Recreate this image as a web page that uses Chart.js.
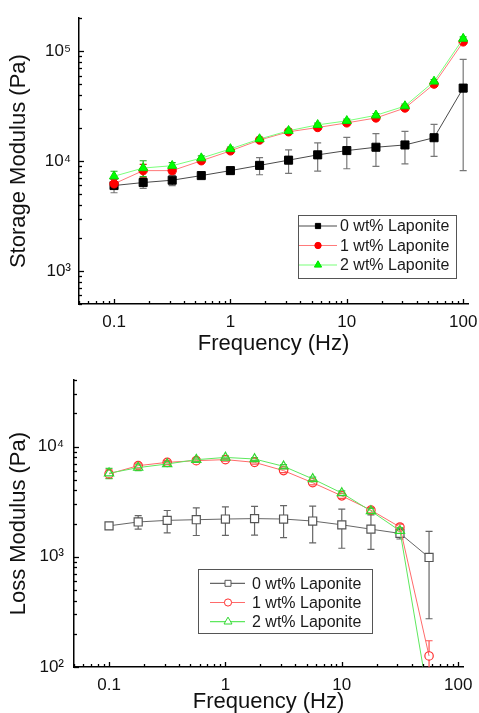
<!DOCTYPE html>
<html>
<head>
<meta charset="utf-8">
<script src="https://cdn.jsdelivr.net/npm/chart.js@4.4.0/dist/chart.umd.min.js"></script>
<style>
  html, body { margin: 0; padding: 0; background: #fff; overflow: hidden; }
  body { width: 479px; height: 713px; position: relative; }
  .panel { position: absolute; left: 0; width: 479px; }
  #top { top: 0; height: 360px; }
  #bottom { top: 360px; height: 372px; }
</style>
</head>
<body>
<div class="panel" id="top"><canvas id="storageChart"></canvas></div>
<div class="panel" id="bottom"><canvas id="lossChart"></canvas></div>
<script>
// frequency sweep (Hz)
const freq = [0.1, 0.178, 0.316, 0.562, 1, 1.78, 3.16, 5.62, 10, 17.8, 31.6, 56.2, 100];
const seriesLabels = ["0 wt% Laponite", "1 wt% Laponite", "2 wt% Laponite"];

// storage modulus G' (Pa) and standard deviations
const storage0 = [5990, 6380, 6700, 7380, 8190, 9140, 10200, 11400, 12470, 13370, 14030, 16330, 46200];
const storage0Err = [840, 740, 710, 300, 600, 1630, 2470, 3280, 3950, 4400, 4580, 5300, 38000];
const storage1 = [6210, 8190, 8190, 10070, 12390, 15550, 18480, 20220, 22280, 24710, 30430, 50230, 121700];
const storage1Err = [600, 1150, 500, 400, 500, 600, 600, 700, 800, 900, 1200, 2000, 4000];
const storage2 = [7280, 8650, 9080, 10640, 12900, 15880, 18880, 21380, 23240, 26120, 31700, 53100, 130300];
const storage2Err = [800, 1420, 600, 500, 500, 600, 700, 800, 900, 1000, 1300, 2100, 5000];

// loss modulus G'' (Pa) and standard deviations (no value at 100 Hz)
const loss0 = [1909, 2070, 2140, 2170, 2200, 2220, 2200, 2110, 1950, 1780, 1630, 986];
const loss0Err = [70, 290, 490, 610, 635, 650, 710, 775, 755, 615, 180, 712];
const loss1 = [5650, 6710, 7190, 7450, 7610, 7190, 6050, 4700, 3570, 2650, 1860, 126];
const loss1Err = [500, 350, 300, 250, 250, 250, 250, 200, 180, 150, 120, 47];
const loss2 = [5730, 6440, 6950, 7600, 7970, 7710, 6620, 5090, 3790, 2600, 1720, 48];
const loss2Err = [620, 400, 350, 300, 250, 250, 250, 200, 180, 150, 120, 10];

// tick labels
const xTickValues = [0.1, 1, 10, 100];
const xTickLabels = ["0.1", "1", "10", "100"];
const storageTickValues = [1e3, 1e4, 1e5];
const storageTickLabels = ["10\u00B3", "10\u2074", "10\u2075"];
const lossTickValues = [1e2, 1e3, 1e4];
const lossTickLabels = ["10\u00B2", "10\u00B3", "10\u2074"];

const FONT = "'Liberation Sans', Arial, 'DejaVu Sans', sans-serif";
Chart.defaults.font.family = FONT;
Chart.defaults.color = "#111";

function pickLabel(values, labels) {
    return (v) => {
        for (let i = 0; i < values.length; i++) {
            if (Math.abs(v - values[i]) / values[i] < 1e-6) return labels[i];
        }
        return "";
    };
}

function points(vals) {
    return vals.map((v, i) => ({ x: freq[i], y: v }));
}

function drawMarker(ctx, style, x, y, r) {
    ctx.beginPath();
    if (style === "rect") {
        ctx.rect(x - r, y - r, 2 * r, 2 * r);
    } else if (style === "triangle") {
        ctx.moveTo(x, y - r);
        ctx.lineTo(x + r * 0.866, y + r * 0.5);
        ctx.lineTo(x - r * 0.866, y + r * 0.5);
        ctx.closePath();
    } else {
        ctx.arc(x, y, r, 0, Math.PI * 2);
    }
    ctx.fill();
    ctx.stroke();
}

// vertical error bars, drawn through the chart's own scales
const errorBars = {
    id: "errorBars",
    beforeDatasetsDraw(chart) {
        const { ctx, chartArea } = chart;
        const xs = chart.scales.x, ys = chart.scales.y;
        ctx.save();
        ctx.beginPath();
        ctx.rect(chartArea.left, chartArea.top, chartArea.right - chartArea.left, chartArea.bottom - chartArea.top);
        ctx.clip();
        chart.data.datasets.forEach((ds) => {
            if (!ds.errors) return;
            ctx.strokeStyle = ds.errorColor;
            ctx.lineWidth = 1.2;
            ds.data.forEach((p, i) => {
                const e = ds.errors[i];
                if (p.y == null || e == null) return;
                const x = xs.getPixelForValue(p.x);
                const yc = ys.getPixelForValue(p.y);
                const yHi = ys.getPixelForValue(p.y + e);
                const lo = p.y - e;
                const yLo = lo > 0 ? ys.getPixelForValue(lo) : chartArea.bottom + 20;
                const gap = ds.errorGap || 0;
                ctx.beginPath();
                if (yHi < yc - gap) { ctx.moveTo(x, yc - gap); ctx.lineTo(x, yHi); }
                if (yLo > yc + gap) { ctx.moveTo(x, yc + gap); ctx.lineTo(x, yLo); }
                ctx.moveTo(x - 3.5, yHi); ctx.lineTo(x + 3.5, yHi);
                ctx.moveTo(x - 3.5, yLo); ctx.lineTo(x + 3.5, yLo);
                ctx.stroke();
            });
        });
        ctx.restore();
    }
};

// short tick marks pointing into the plot, major and minor on log axes
const inwardTicks = {
    id: "inwardTicks",
    afterDraw(chart) {
        const ctx = chart.ctx;
        ctx.save();
        ctx.strokeStyle = "#000";
        ctx.lineWidth = 1.3;
        ["x", "y"].forEach((id) => {
            const s = chart.scales[id];
            const lo = Math.floor(Math.log10(s.min));
            const hi = Math.ceil(Math.log10(s.max));
            for (let e = lo; e <= hi; e++) {
                for (let k = 1; k <= 9; k++) {
                    const v = k * Math.pow(10, e);
                    if (v < s.min * 0.9999 || v > s.max * 1.0001) continue;
                    const len = k === 1 ? 5 : 3;
                    const p = Math.round(s.getPixelForValue(v)) + 0.5;
                    ctx.beginPath();
                    if (id === "x") {
                        ctx.moveTo(p, s.top);
                        ctx.lineTo(p, s.top - len);
                    } else {
                        ctx.moveTo(s.right, p);
                        ctx.lineTo(s.right + len, p);
                    }
                    ctx.stroke();
                }
            }
        });
        ctx.restore();
    }
};

// framed legend with line + marker samples
const boxLegend = {
    id: "boxLegend",
    afterDraw(chart, args, opts) {
        const ctx = chart.ctx;
        ctx.save();
        ctx.strokeStyle = "#555";
        ctx.lineWidth = 1;
        ctx.strokeRect(opts.left + 0.5, opts.top + 0.5, opts.width, opts.height);
        chart.data.datasets.forEach((ds, i) => {
            const y = opts.rowY + i * opts.rowGap;
            ctx.strokeStyle = ds.borderColor;
            ctx.lineWidth = 1.2;
            ctx.beginPath();
            ctx.moveTo(opts.lineX0, y);
            ctx.lineTo(opts.lineX1, y);
            ctx.stroke();
            ctx.fillStyle = ds.legendFill;
            ctx.strokeStyle = ds.pointBorderColor;
            ctx.lineWidth = 1;
            drawMarker(ctx, ds.pointStyle, opts.markerX, y, ds.legendRadius);
            ctx.fillStyle = "#1a1a1a";
            ctx.font = "16px " + FONT;
            ctx.textBaseline = "middle";
            ctx.textAlign = "left";
            ctx.fillText(ds.label, opts.textX, y + 1);
        });
        ctx.restore();
    }
};

function axes(yMin, yMax, yValues, yLabels, yTitle, yWidth, xHeight, yPad, xTitlePad) {
    return {
        x: {
            type: "logarithmic",
            min: 0.05,
            max: 110,
            grid: { display: false, drawTicks: false },
            border: { display: true, color: "#000", width: 1.5 },
            ticks: {
                autoSkip: false, maxRotation: 0, padding: 8, color: "#111",
                font: { size: 17 },
                callback: pickLabel(xTickValues, xTickLabels)
            },
            title: { display: true, text: "Frequency (Hz)", color: "#111", font: { size: 22 }, padding: { top: 0, bottom: xTitlePad } },
            afterFit: (s) => { s.height = xHeight; }
        },
        y: {
            type: "logarithmic",
            min: yMin,
            max: yMax,
            grid: { display: false, drawTicks: false },
            border: { display: true, color: "#000", width: 1.5 },
            ticks: {
                autoSkip: false, padding: yPad, color: "#111",
                font: { size: 17 },
                callback: pickLabel(yValues, yLabels)
            },
            title: { display: true, text: yTitle, color: "#111", font: { size: 22 }, padding: { top: 6, bottom: 0 } },
            afterFit: (s) => { s.width = yWidth; }
        }
    };
}

function drawStorageChart() {
    const ctx = document.getElementById("storageChart").getContext("2d");
    new Chart(ctx, {
        type: "line",
        data: {
            datasets: [
                {
                    label: seriesLabels[0], data: points(storage0), errors: storage0Err,
                    errorColor: "#777", errorGap: 0, order: 2,
                    borderColor: "#4a4a4a", borderWidth: 1,
                    pointStyle: "rect", pointRadius: 5.7, pointBorderWidth: 1,
                    pointBackgroundColor: "#000", pointBorderColor: "#000",
                    legendFill: "#000", legendRadius: 2.6
                },
                {
                    label: seriesLabels[1], data: points(storage1), errors: storage1Err,
                    errorColor: "#d02020", errorGap: 0, order: 1,
                    borderColor: "#ff7a7a", borderWidth: 1,
                    pointStyle: "circle", pointRadius: 4.2, pointBorderWidth: 1,
                    pointBackgroundColor: "#ff0000", pointBorderColor: "#ff0000",
                    legendFill: "#ff0000", legendRadius: 3.2
                },
                {
                    label: seriesLabels[2], data: points(storage2), errors: storage2Err,
                    errorColor: "#20b020", errorGap: 0, order: 0,
                    borderColor: "#7aff7a", borderWidth: 1,
                    pointStyle: "triangle", pointRadius: 5.3, pointBorderWidth: 1,
                    pointBackgroundColor: "#00ff00", pointBorderColor: "#00e000",
                    legendFill: "#00ff00", legendRadius: 4.2
                }
            ]
        },
        options: {
            responsive: true,
            maintainAspectRatio: false,
            animation: false,
            layout: { padding: { top: 14, right: 11, left: 0, bottom: 0 } },
            scales: axes(500, 2e5, storageTickValues, storageTickLabels, "Storage Modulus (Pa)", 79, 56, 8, 3),
            plugins: {
                legend: { display: false },
                tooltip: { enabled: false },
                boxLegend: {
                    left: 298, top: 215, width: 158, height: 63,
                    rowY: 226, rowGap: 19.5,
                    lineX0: 299, lineX1: 337, markerX: 318, textX: 340
                }
            }
        },
        plugins: [errorBars, inwardTicks, boxLegend]
    });
}

function drawLossChart() {
    const ctx = document.getElementById("lossChart").getContext("2d");
    new Chart(ctx, {
        type: "line",
        data: {
            datasets: [
                {
                    label: seriesLabels[0], data: points(loss0), errors: loss0Err,
                    errorColor: "#666", errorGap: 4, order: 2,
                    borderColor: "#666", borderWidth: 1,
                    pointStyle: "rect", pointRadius: 5.7, pointBorderWidth: 1.2,
                    pointBackgroundColor: "#fff", pointBorderColor: "#555",
                    legendFill: "#fff", legendRadius: 3
                },
                {
                    label: seriesLabels[1], data: points(loss1), errors: loss1Err,
                    errorColor: "#ff5050", errorGap: 4, order: 1,
                    borderColor: "#ff6a6a", borderWidth: 1,
                    pointStyle: "circle", pointRadius: 4.2, pointBorderWidth: 1.2,
                    pointBackgroundColor: "rgba(255,255,255,0)", pointBorderColor: "#ff3030",
                    legendFill: "#fff", legendRadius: 3.6
                },
                {
                    label: seriesLabels[2], data: points(loss2), errors: loss2Err,
                    errorColor: "#40d040", errorGap: 4, order: 0,
                    borderColor: "#5ee85e", borderWidth: 1,
                    pointStyle: "triangle", pointRadius: 5.3, pointBorderWidth: 1.2,
                    pointBackgroundColor: "rgba(255,255,255,0)", pointBorderColor: "#30d830",
                    legendFill: "#fff", legendRadius: 4.6
                }
            ]
        },
        options: {
            responsive: true,
            maintainAspectRatio: false,
            animation: false,
            layout: { padding: { top: 17, right: 16, left: 0, bottom: 0 } },
            scales: axes(100, 4e4, lossTickValues, lossTickLabels, "Loss Modulus (Pa)", 74, 65, 10, 17),
            plugins: {
                legend: { display: false },
                tooltip: { enabled: false },
                boxLegend: {
                    left: 198, top: 209, width: 174, height: 64,
                    rowY: 223.3, rowGap: 19.2,
                    lineX0: 210, lineX1: 245, markerX: 228, textX: 252
                }
            }
        },
        plugins: [errorBars, inwardTicks, boxLegend]
    });
}

drawStorageChart();
drawLossChart();
</script>
</body>
</html>
